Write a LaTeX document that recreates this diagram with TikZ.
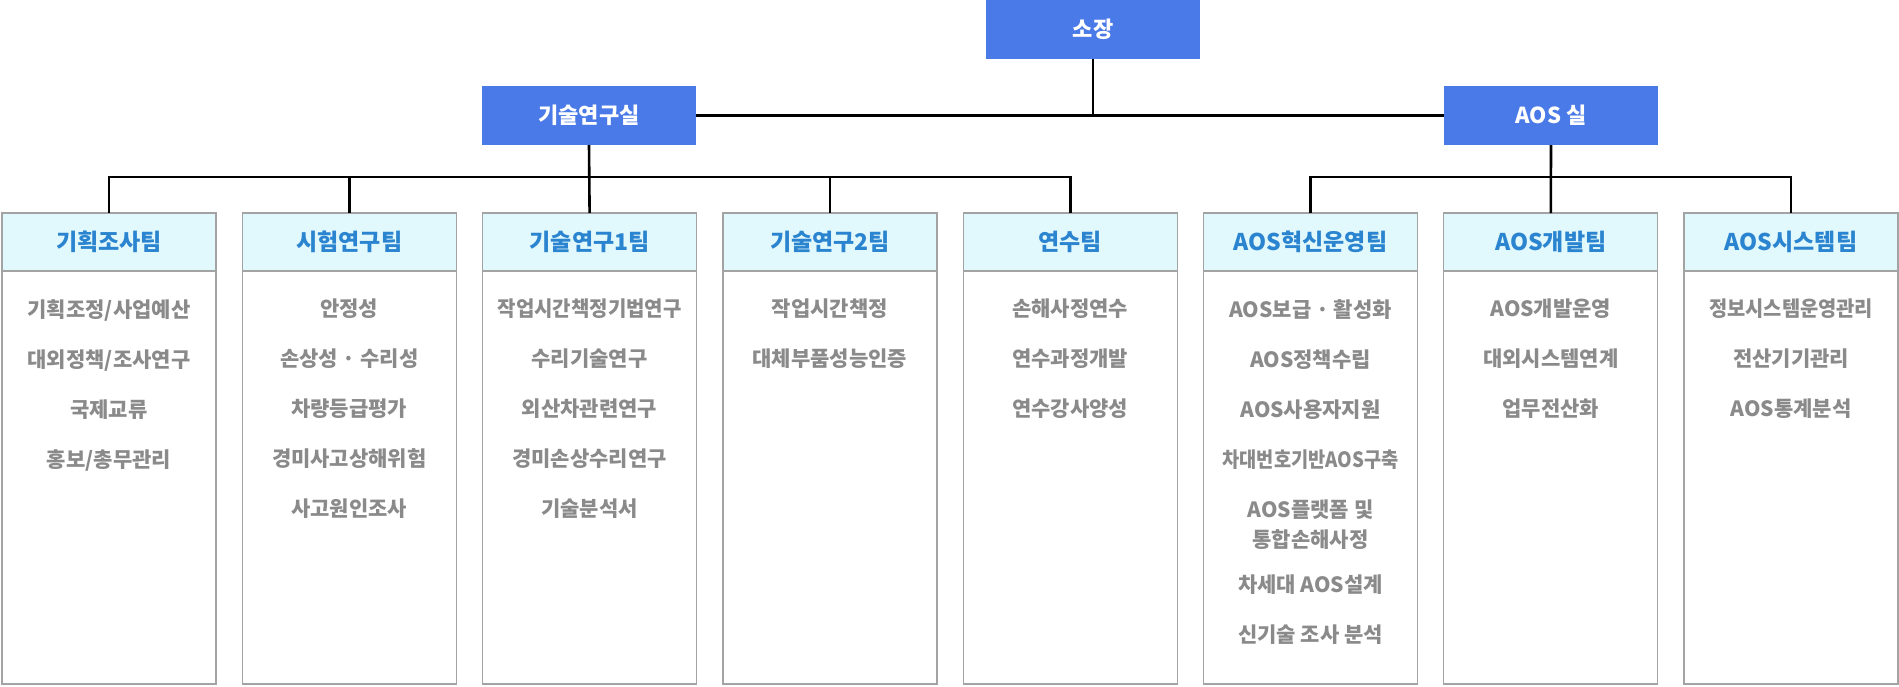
\documentclass[tikz,border=0pt]{standalone}
\usepackage{fontspec}
\setmainfont{Noto Sans CJK KR}
\usetikzlibrary{positioning}

\definecolor{officeblue}{HTML}{4A7AE8}
\definecolor{headfill}{HTML}{E1F8FC}
\definecolor{headtext}{HTML}{2B84CF}
\definecolor{boxline}{HTML}{A3A3A3}
\definecolor{dutygray}{HTML}{8A8A8A}

% squeeze a line of text to a given width
\newcommand{\narrowtext}[2]{\resizebox{#1}{\height}{#2}}

\tikzset{
	office/.style={fill=officeblue, text=white, font=\fontsize{22}{22}\selectfont\bfseries,
		minimum width=214pt, minimum height=59pt, inner sep=0pt, outer sep=0pt},
	teamhead/.style={draw=boxline, line width=1.3pt, fill=headfill, text=headtext,
		font=\fontsize{23}{23}\selectfont\bfseries,
		minimum width=214pt, minimum height=58pt, inner sep=0pt, outer sep=0pt},
	teambody/.style={draw=boxline, line width=1.3pt,
		minimum width=214pt, minimum height=413pt, inner sep=0pt, outer sep=0pt},
	duty/.style={text=dutygray, font=\fontsize{21}{50}\selectfont\bfseries,
		align=center, inner sep=0pt},
	link/.style={line width=2.6pt},
}

\begin{document}
\begin{tikzpicture}[x=1pt, y=-1pt, node distance=26.3pt]
		\useasboundingbox (0,0) rectangle (1899,686);

		\node[office] (chief) at (1093,29.5) {소장};
		\node[office] (techlab) at (589,115.5) {기술연구실};
		\node[office] (aoslab) at (1551,115.5) {AOS 실};

		\node[teamhead] (team1) at (109,242) {기획조사팀};
		\node[teamhead, right=of team1] (team2) {시험연구팀};
		\node[teamhead, right=of team2] (team3) {기술연구1팀};
		\node[teamhead, right=of team3] (team4) {기술연구2팀};
		\node[teamhead, right=of team4] (team5) {연수팀};
		\node[teamhead, right=of team5] (team6) {AOS혁신운영팀};
		\node[teamhead, right=of team6] (team7) {AOS개발팀};
		\node[teamhead, right=of team7] (team8) {AOS시스템팀};

		\node[teambody, below=0pt of team1] (body1) {};
		\node[teambody, below=0pt of team2] (body2) {};
		\node[teambody, below=0pt of team3] (body3) {};
		\node[teambody, below=0pt of team4] (body4) {};
		\node[teambody, below=0pt of team5] (body5) {};
		\node[teambody, below=0pt of team6] (body6) {};
		\node[teambody, below=0pt of team7] (body7) {};
		\node[teambody, below=0pt of team8] (body8) {};

		\node[duty, below=28pt of body1.north] (duty1) {기획조정/사업예산\\ 대외정책/조사연구\\ 국제교류\\ 홍보/총무관리};
		\node[duty, below=28pt of body2.north] (duty2) {안정성\\ 손상성 · 수리성\\ 차량등급평가\\ 경미사고상해위험\\ 사고원인조사};
		\node[duty, below=28pt of body3.north] (duty3) {\narrowtext{184pt}{작업시간책정기법연구}\\ 수리기술연구\\ 외산차관련연구\\ 경미손상수리연구\\ 기술분석서};
		\node[duty, below=28pt of body4.north] (duty4) {작업시간책정\\ 대체부품성능인증};
		\node[duty, below=28pt of body5.north] (duty5) {손해사정연수\\ 연수과정개발\\ 연수강사양성};
		\node[duty, below=28pt of body6.north] (duty6) {AOS보급 · 활성화\\ AOS정책수립\\ AOS사용자지원\\ \narrowtext{176pt}{차대번호기반AOS구축}\\ AOS플랫폼 및\\[-20pt] 통합손해사정\\[-5pt] 차세대 AOS설계\\ 신기술 조사 분석};
		\node[duty, below=28pt of body7.north] (duty7) {AOS개발운영\\ 대외시스템연계\\ 업무전산화};
		\node[duty, below=28pt of body8.north] (duty8) {\narrowtext{164pt}{정보시스템운영관리}\\ 전산기기관리\\ AOS통계분석};

		% joints of the two team brackets
		\coordinate[below=32pt of techlab.south] (techjoint);
		\coordinate[below=32pt of aoslab.south] (aosjoint);

		\draw[link] (techlab.east) -- (aoslab.west);
		\draw[link] (chief.south) -- (chief.south |- techlab.east);

		\draw[link] (team1.north) |- (techjoint) -| (team5.north);
		\draw[link] (techlab.south) -- (team3.north);
		\draw[link] (techjoint -| team2.north) -- (team2.north);
		\draw[link] (techjoint -| team4.north) -- (team4.north);

		\draw[link] (team6.north) |- (aosjoint) -| (team8.north);
		\draw[link] (aoslab.south) -- (team7.north);
\end{tikzpicture}
\end{document}
